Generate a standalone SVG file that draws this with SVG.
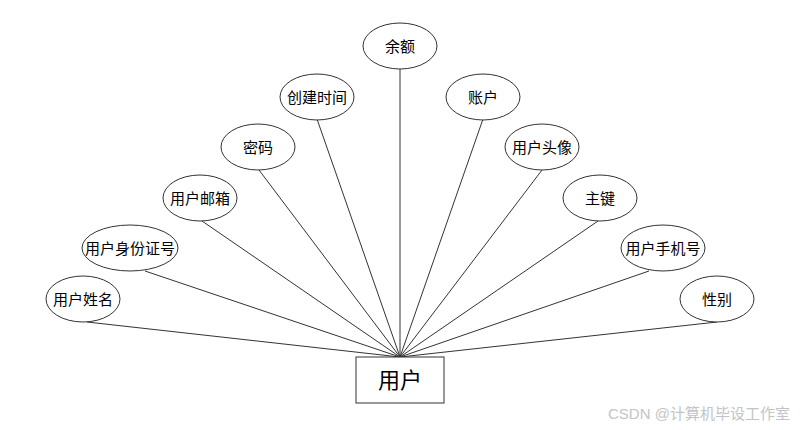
<svg xmlns="http://www.w3.org/2000/svg" width="800" height="430" viewBox="0 0 800 430">
<style>
.attr ellipse{fill:#fff;stroke:#333;stroke-width:1}
.attr text{font-family:"Liberation Sans","Noto Sans CJK SC",sans-serif;font-size:15px;fill:#000;text-anchor:middle;dominant-baseline:central}
#conn line{stroke:#333;stroke-width:1}
.ent rect{fill:#fff;stroke:#333;stroke-width:1}
.ent text{font-family:"Liberation Sans","Noto Sans CJK SC",sans-serif;font-size:22px;fill:#000;text-anchor:middle;dominant-baseline:central}
.wm{font-family:"Liberation Sans","Noto Sans CJK SC",sans-serif;font-size:15px;fill:#c4c4c4}
</style>
<rect width="800" height="430" fill="#fff"/>
<g id="conn">
<line x1="400" y1="69" x2="400" y2="357"/>
<line x1="317" y1="119" x2="400" y2="357"/>
<line x1="259" y1="170" x2="400" y2="357"/>
<line x1="202" y1="221" x2="400" y2="357"/>
<line x1="145" y1="271" x2="400" y2="357"/>
<line x1="87" y1="322" x2="400" y2="357"/>
<line x1="483" y1="119" x2="400" y2="357"/>
<line x1="542" y1="170" x2="400" y2="357"/>
<line x1="598" y1="221" x2="400" y2="357"/>
<line x1="649" y1="271" x2="400" y2="357"/>
<line x1="717" y1="322" x2="400" y2="357"/>
</g>
<g id="n-yue" class="attr"><ellipse cx="400" cy="46" rx="37" ry="23"/><text x="400" y="46">余额</text></g>
<g id="n-cjsj" class="attr"><ellipse cx="317" cy="97" rx="37" ry="23"/><text x="317" y="97">创建时间</text></g>
<g id="n-mm" class="attr"><ellipse cx="258" cy="147" rx="37" ry="23"/><text x="258" y="147">密码</text></g>
<g id="n-yhyx" class="attr"><ellipse cx="200" cy="198" rx="37" ry="23"/><text x="200" y="198">用户邮箱</text></g>
<g id="n-sfz" class="attr"><ellipse cx="130" cy="248" rx="48" ry="23"/><text x="130" y="248">用户身份证号</text></g>
<g id="n-xm" class="attr"><ellipse cx="83" cy="299" rx="37" ry="23"/><text x="83" y="299">用户姓名</text></g>
<g id="n-zh" class="attr"><ellipse cx="483" cy="97" rx="37" ry="23"/><text x="483" y="97">账户</text></g>
<g id="n-tx" class="attr"><ellipse cx="542" cy="147" rx="37" ry="23"/><text x="542" y="147">用户头像</text></g>
<g id="n-zj" class="attr"><ellipse cx="600" cy="198" rx="37" ry="23"/><text x="600" y="198">主键</text></g>
<g id="n-sjh" class="attr"><ellipse cx="663" cy="248" rx="42" ry="23"/><text x="663" y="248">用户手机号</text></g>
<g id="n-xb" class="attr"><ellipse cx="717" cy="299" rx="37" ry="23"/><text x="717" y="299">性别</text></g>
<g id="n-user" class="ent"><rect x="356" y="357" width="88" height="46"/><text x="400" y="380">用户</text></g>
<text class="wm" x="608" y="419">CSDN @计算机毕设工作室</text>
</svg>
